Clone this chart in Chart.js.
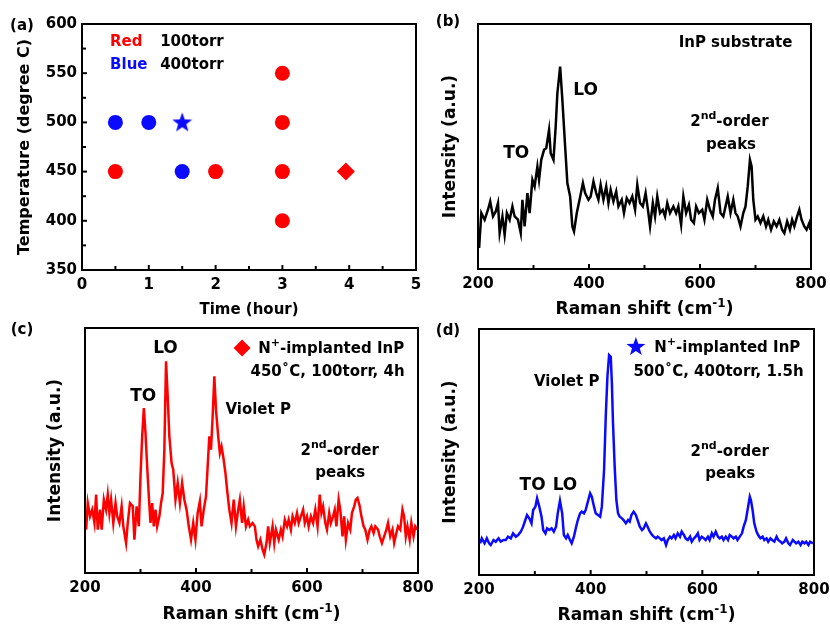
<!DOCTYPE html>
<html>
<head>
<meta charset="utf-8">
<script src="https://cdn.jsdelivr.net/npm/chart.js@4.4.1/dist/chart.umd.min.js"></script>
<style>
  body { margin: 0; background: #fff; width: 830px; height: 628px; position: relative; overflow: hidden; }
  canvas { position: absolute; }
  .tag { position: absolute; font: bold 15px "DejaVu Sans", sans-serif; color: #000; transform: translate(-50%, -50%); }
</style>
</head>
<body>
<canvas id="ca" width="450" height="325" style="left:0;top:0"></canvas>
<canvas id="cb" width="410" height="325" style="left:420px;top:0"></canvas>
<canvas id="cc" width="450" height="318" style="left:0;top:310px"></canvas>
<canvas id="cd" width="410" height="318" style="left:420px;top:310px"></canvas>
<div class="tag" style="left:22px;top:25px">(a)</div>
<div class="tag" style="left:448px;top:21px">(b)</div>
<div class="tag" style="left:22px;top:329px">(c)</div>
<div class="tag" style="left:448px;top:330px">(d)</div>
<script>
// ---- (a) growth conditions ----
const timeTicks = [0, 1, 2, 3, 4, 5];
const tempTicks = [350, 400, 450, 500, 550, 600];
const redTime = [0.5, 2, 3, 3, 3, 3];
const redTemp = [450, 450, 550, 500, 450, 400];
const blueTime = [0.5, 1, 1.5];
const blueTemp = [500, 500, 450];
const starTime = [1.5];
const starTemp = [500];
const diamondTime = [3.95];
const diamondTemp = [450];

// ---- Raman spectra (arbitrary intensity) ----
const ramanTicks = [200, 400, 600, 800];

const shiftB = [202,206,212,218,222,227,232,236,239,244,248,252,257,262,266,272,277,280,284,289,293,298,302,307,310,314,319,323,328,331,336,340,343,348,352,357,361,366,370,373,378,383,389,393,399,403,408,413,417,421,426,431,435,439,444,449,453,459,463,468,473,478,483,487,492,497,502,507,510,515,519,523,528,533,537,541,546,552,557,561,566,570,575,580,584,589,593,598,604,608,613,618,623,627,632,637,642,646,650,655,660,664,668,673,678,682,686,690,693,696,700,704,709,714,719,723,728,733,738,743,748,752,757,762,766,770,775,779,783,788,792,797,799];
const intB = [63,168,148,178,203,158,173,198,108,158,103,168,148,188,158,148,108,208,128,228,168,268,248,308,268,328,358,363,418,348,328,428,528,608,508,368,258,218,128,113,168,208,258,228,208,218,263,228,208,253,208,248,198,238,203,233,188,208,168,213,198,218,178,253,198,188,228,168,128,198,158,218,168,178,158,198,168,188,168,188,133,218,168,193,148,138,188,168,178,148,208,178,158,208,243,168,158,188,218,168,208,168,158,128,168,188,248,328,308,208,148,158,138,158,128,148,118,143,128,148,118,108,143,118,148,128,158,178,148,128,118,138,118];

const shiftC = [202,205,209,213,217,220,223,227,230,234,238,241,244,247,251,255,258,262,266,269,274,277,281,286,289,293,297,300,303,306,309,312,315,318,321,324,327,330,334,337,340,343,346,349,352,356,359,363,367,371,375,379,383,387,391,395,399,403,407,410,414,418,421,424,427,430,433,436,440,443,446,449,453,456,460,464,468,472,476,479,483,486,490,494,497,502,506,509,512,516,520,523,527,530,533,538,541,544,549,553,556,560,564,567,571,574,578,582,585,589,593,596,600,603,607,611,615,619,623,626,629,633,636,640,643,647,650,653,657,660,664,667,670,674,678,681,685,688,691,695,698,702,705,709,713,716,720,723,728,731,735,739,743,746,750,754,757,761,764,768,772,775,778,781,785,788,792,795,799];
const intC = [130,210,170,190,150,235,130,190,130,220,190,235,180,220,150,210,170,150,200,140,90,150,210,200,100,200,140,290,410,495,420,320,230,150,210,140,190,140,170,210,240,370,635,530,410,330,310,220,270,210,270,220,190,140,100,150,100,180,215,140,190,230,320,410,370,470,590,490,410,360,380,350,300,250,190,150,220,140,190,220,150,200,140,160,140,150,140,100,80,100,70,55,90,140,90,140,90,130,100,130,110,160,140,160,130,170,150,180,150,170,190,150,170,140,170,150,190,140,235,180,200,150,130,180,150,170,190,140,220,190,110,170,100,150,130,180,200,220,225,200,170,140,130,100,130,140,120,140,130,110,90,110,130,150,110,130,90,120,140,130,190,170,110,140,100,150,110,140,130];

const shiftD = [202,205,210,214,218,221,226,230,235,239,244,248,252,257,261,266,270,275,279,283,286,290,294,297,301,304,308,312,315,319,322,326,330,334,338,341,345,349,352,356,359,363,366,370,374,377,381,384,388,391,395,399,402,406,409,413,417,420,424,427,430,433,436,438,440,443,446,449,452,456,459,463,467,470,473,477,481,484,488,492,495,499,502,506,510,513,517,520,524,527,531,535,538,542,545,549,552,556,560,563,567,570,574,578,581,585,588,592,595,599,603,606,610,613,617,620,624,628,631,635,638,642,646,649,653,656,660,663,667,671,674,678,681,685,687,690,693,697,700,704,708,711,715,718,722,725,729,733,736,740,743,747,750,754,757,762,765,768,772,776,779,783,786,790,793,798];
const intD = [95,110,95,110,95,90,105,100,110,100,105,105,115,110,125,115,120,130,145,165,180,170,155,195,205,230,205,175,135,125,140,135,140,130,145,185,223,185,120,110,120,105,95,115,145,165,185,190,185,195,220,245,235,205,185,180,175,205,315,475,595,660,655,575,455,325,225,185,175,170,165,155,165,160,180,190,180,165,145,135,140,155,145,130,120,115,110,115,110,105,110,90,105,115,110,120,110,125,115,130,120,110,105,115,100,110,115,125,105,115,110,105,115,105,125,115,130,115,110,115,105,115,105,120,115,110,115,105,115,125,145,165,195,235,225,195,155,130,120,110,115,105,110,100,110,105,100,115,105,100,95,100,110,95,90,105,100,95,100,90,100,95,100,90,100,95];

const RED = '#ff0000';
const BLUE = '#0a0aff';
const FONT = '"DejaVu Sans", sans-serif';

Chart.defaults.animation = false;
Chart.defaults.color = '#000';
Chart.defaults.font.family = FONT;
Chart.defaults.font.weight = 'bold';

function starPath(ctx, cx, cy, R, r) {
  ctx.beginPath();
  for (let i = 0; i < 10; i++) {
    const rad = i % 2 ? r : R;
    const a = -Math.PI / 2 + i * Math.PI / 5;
    ctx.lineTo(cx + rad * Math.cos(a), cy + rad * Math.sin(a));
  }
  ctx.closePath();
}
function diamondPath(ctx, cx, cy, r) {
  ctx.beginPath();
  ctx.moveTo(cx, cy - r); ctx.lineTo(cx + r, cy); ctx.lineTo(cx, cy + r); ctx.lineTo(cx - r, cy);
  ctx.closePath();
}

// star image used as point style
const starImg = document.createElement('canvas');
starImg.width = 22; starImg.height = 22;
(function () {
  const c = starImg.getContext('2d');
  c.fillStyle = BLUE;
  starPath(c, 11, 11.5, 10.5, 4.3);
  c.fill();
})();

// text with superscripts: parts are strings or {sup: '...'}
function drawRich(ctx, parts, x, y, align, size, color) {
  const main = 'bold ' + size + 'px ' + FONT;
  const sup = 'bold ' + Math.round(size * 0.7) + 'px ' + FONT;
  let total = 0;
  const w = parts.map(p => {
    ctx.font = typeof p === 'string' ? main : sup;
    const m = ctx.measureText(typeof p === 'string' ? p : p.sup).width;
    total += m;
    return m;
  });
  let cx = align === 'left' ? x : x - total / 2;
  ctx.textAlign = 'left';
  ctx.textBaseline = 'middle';
  ctx.fillStyle = color || '#000';
  parts.forEach((p, i) => {
    if (typeof p === 'string') {
      ctx.font = main;
      ctx.fillText(p, cx, y);
    } else {
      ctx.font = sup;
      ctx.fillText(p.sup, cx, y - size * 0.38);
    }
    cx += w[i];
  });
}

function panelPlugin(opts) {
  return {
    id: 'panel',
    afterDraw(chart) {
      const { ctx, chartArea: a, scales } = chart;
      const sx = scales.x, sy = scales.y;
      ctx.save();
      ctx.strokeStyle = '#000';
      ctx.lineWidth = 2;
      ctx.strokeRect(a.left, a.top, a.right - a.left, a.bottom - a.top);
      // inward tick marks
      sx.ticks.forEach(t => {
        const px = sx.getPixelForValue(t.value);
        const len = t.label ? 5 : 4;
        ctx.beginPath();
        ctx.moveTo(px, a.bottom);
        ctx.lineTo(px, a.bottom - len);
        ctx.stroke();
      });
      if (opts.yTicks) {
        sy.ticks.forEach(t => {
          const py = sy.getPixelForValue(t.value);
          const len = t.label ? 5 : 4;
          ctx.beginPath();
          ctx.moveTo(a.left, py);
          ctx.lineTo(a.left + len, py);
          ctx.stroke();
        });
      }
      // annotations placed in data coordinates
      (opts.notes || []).forEach(n => {
        const px = sx.getPixelForValue(n.x), py = sy.getPixelForValue(n.y);
        if (n.marker === 'diamond') {
          ctx.fillStyle = RED; diamondPath(ctx, px, py, 8.5); ctx.fill();
        } else if (n.marker === 'star') {
          ctx.fillStyle = BLUE; starPath(ctx, px, py, 10, 4.1); ctx.fill();
        } else {
          drawRich(ctx, n.parts, px, py, n.align || 'center', n.size || 15, n.color);
        }
      });
      if (opts.xTitle) {
        drawRich(ctx, ['Raman shift (cm', { sup: '-1' }, ')'], (a.left + a.right) / 2, opts.xTitleY, 'center', 17, '#000');
      }
      ctx.restore();
    }
  };
}

function fixY(w) {
  return s => { s.width = w; s.paddingTop = 0; s.paddingBottom = 0; };
}
function fixX(h) {
  return s => { s.height = h; s.paddingLeft = 0; s.paddingRight = 0; };
}

function pts(xs, ys) { return xs.map((x, i) => ({ x: x, y: ys[i] })); }

// ---------- (a) ----------
new Chart(document.getElementById('ca'), {
  type: 'scatter',
  data: {
    datasets: [
      { data: pts(redTime, redTemp), pointStyle: 'circle', pointRadius: 7.5, backgroundColor: RED, borderColor: RED, borderWidth: 0 },
      { data: pts(blueTime, blueTemp), pointStyle: 'circle', pointRadius: 7.5, backgroundColor: BLUE, borderColor: BLUE, borderWidth: 0 },
      { data: pts(starTime, starTemp), pointStyle: starImg, pointRadius: 10 },
      { data: pts(diamondTime, diamondTemp), pointStyle: 'rectRot', pointRadius: 9, backgroundColor: RED, borderColor: RED, borderWidth: 0 }
    ]
  },
  options: {
    responsive: false,
    layout: { padding: { left: 0, top: 24, right: 34, bottom: 0 } },
    plugins: { legend: { display: false }, tooltip: { enabled: false } },
    scales: {
      x: {
        type: 'linear', min: 0, max: 5,
        grid: { display: false, drawTicks: false }, border: { display: false },
        ticks: { stepSize: 0.5, autoSkip: false, maxRotation: 0, padding: 6, font: { size: 15 },
          callback: v => timeTicks.includes(v) ? String(v) : '' },
        title: { display: true, text: 'Time (hour)', font: { size: 15 }, padding: { top: 0, bottom: 6 } },
        afterFit: fixX(55)
      },
      y: {
        min: 350, max: 600,
        grid: { display: false, drawTicks: false }, border: { display: false },
        ticks: { stepSize: 25, autoSkip: false, padding: 5, font: { size: 15 },
          callback: v => tempTicks.includes(v) ? String(v) : '' },
        title: { display: true, text: 'Temperature (degree C)', font: { size: 16 }, padding: { top: 15, bottom: 0 } },
        afterFit: fixY(82)
      }
    }
  },
  plugins: [panelPlugin({
    yTicks: true,
    notes: [
      { x: 0.42, y: 582, parts: ['Red'], align: 'left', color: RED },
      { x: 1.17, y: 582, parts: ['100torr'], align: 'left' },
      { x: 0.42, y: 558, parts: ['Blue'], align: 'left', color: BLUE },
      { x: 1.17, y: 558, parts: ['400torr'], align: 'left' }
    ]
  })]
});

// ---------- spectra ----------
function spectrum(id, xs, ys, color, yMax, geo, notes) {
  return new Chart(document.getElementById(id), {
    type: 'line',
    data: { datasets: [{ data: pts(xs, ys), borderColor: color, borderWidth: 2.5, pointRadius: 0, tension: 0, fill: false }] },
    options: {
      responsive: false,
      layout: { padding: { left: 0, top: geo.top, right: geo.right, bottom: 0 } },
      plugins: { legend: { display: false }, tooltip: { enabled: false } },
      scales: {
        x: {
          type: 'linear', min: 200, max: 800,
          grid: { display: false, drawTicks: false }, border: { display: false },
          ticks: { stepSize: 100, autoSkip: false, maxRotation: 0, padding: 6, font: { size: 15 },
            callback: v => ramanTicks.includes(v) ? String(v) : '' },
          afterFit: fixX(geo.xh)
        },
        y: {
          min: 0, max: yMax,
          grid: { display: false, drawTicks: false }, border: { display: false },
          ticks: { display: false },
          title: { display: true, text: 'Intensity (a.u.)', font: { size: 17 }, padding: { top: geo.yt, bottom: 0 } },
          afterFit: fixY(geo.yw)
        }
      }
    },
    plugins: [panelPlugin({ notes: notes, xTitle: true, xTitleY: geo.titleY })]
  });
}

spectrum('cb', shiftB, intB, '#000', 736,
  { top: 24, right: 19, xh: 56, yw: 58, yt: 20, titleY: 310 },
  [
    { x: 664, y: 678, parts: ['InP substrate'] },
    { x: 394, y: 537, parts: ['LO'], size: 17 },
    { x: 269, y: 348, parts: ['TO'], size: 17 },
    { x: 653, y: 441, parts: ['2', { sup: 'nd' }, '-order'] },
    { x: 656, y: 372, parts: ['peaks'] }
  ]);

spectrum('cc', shiftC, intC, RED, 735,
  { top: 18, right: 32, xh: 55, yw: 85, yt: 45, titleY: 305 },
  [
    { x: 345, y: 672, parts: ['LO'], size: 17 },
    { x: 305, y: 528, parts: ['TO'], size: 17 },
    { x: 512, y: 489, parts: ['Violet P'] },
    { x: 659, y: 366, parts: ['2', { sup: 'nd' }, '-order'] },
    { x: 660, y: 300, parts: ['peaks'] },
    { x: 483, y: 675, marker: 'diamond' },
    { x: 512, y: 672, parts: ['N', { sup: '+' }, '-implanted InP'], align: 'left' },
    { x: 637, y: 603, parts: ['450˚C, 100torr, 4h'] }
  ]);

spectrum('cd', shiftD, intD, BLUE, 738,
  { top: 19, right: 16, xh: 53, yw: 59, yt: 20, titleY: 306 },
  [
    { x: 357, y: 579, parts: ['Violet P'] },
    { x: 296, y: 267, parts: ['TO'], size: 17 },
    { x: 354, y: 267, parts: ['LO'], size: 17 },
    { x: 649, y: 369, parts: ['2', { sup: 'nd' }, '-order'] },
    { x: 650, y: 303, parts: ['peaks'] },
    { x: 481, y: 684, marker: 'star' },
    { x: 514, y: 681, parts: ['N', { sup: '+' }, '-implanted InP'], align: 'left' },
    { x: 629, y: 609, parts: ['500˚C, 400torr, 1.5h'] }
  ]);
</script>
</body>
</html>
